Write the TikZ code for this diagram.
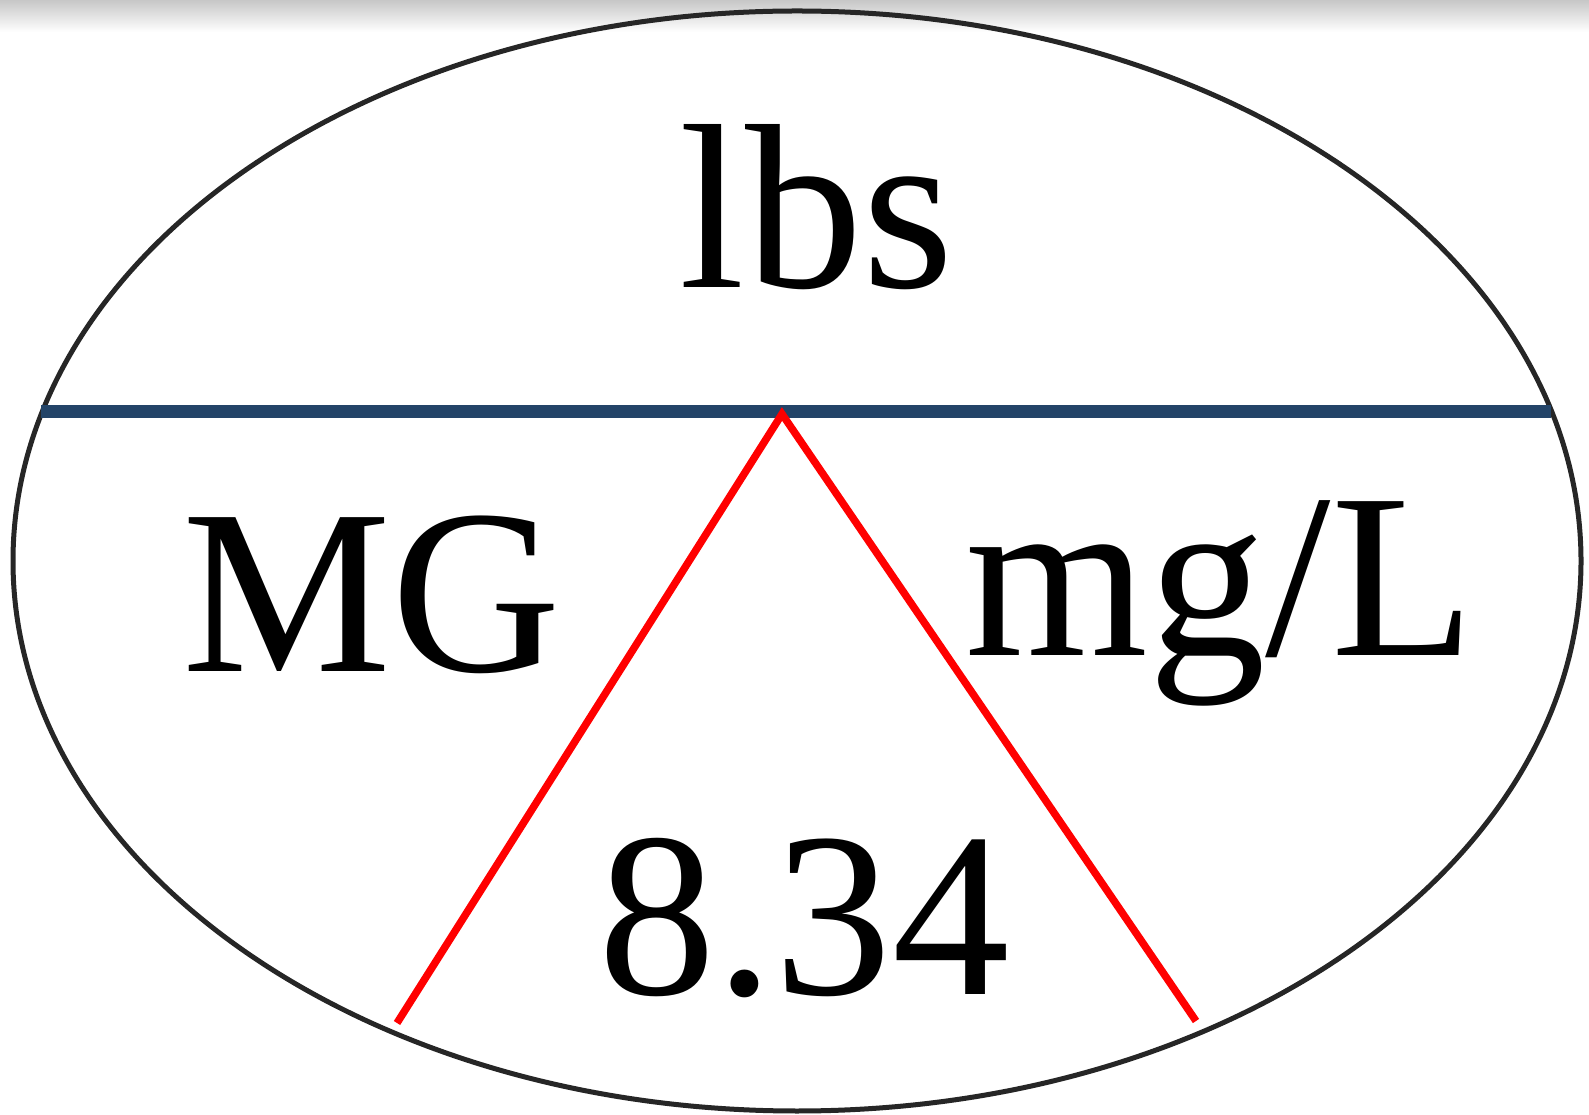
\documentclass[tikz,border=0pt]{standalone}
\usepackage{fontspec}
\setmainfont{Liberation Serif}
\definecolor{barblue}{HTML}{234468}
\definecolor{rimgray}{HTML}{262626}
\tikzset{
  unit/.style={inner sep=0pt,anchor=base,font=\fontsize{235}{260}\selectfont},
}
\begin{document}
\begin{tikzpicture}[x=1pt,y=1pt]
        \useasboundingbox (0,0) rectangle (1589,1114);
        %sfumatura in alto
        \shade[top color=black!22, bottom color=white] (0,1082) rectangle (1589,1114);

        %ellisse
        \draw[line width=5pt,rimgray] (797,553) ellipse [x radius=784, y radius=550];
        %barra orizzontale
        \coordinate (barL) at (41,702.5);
        \coordinate (barR) at (1551,702.5);
        \draw[line width=12.5pt,barblue] (barL) -- (barR);

        %triangolo rosso
        \coordinate (apex) at (782,700);
        \coordinate (footL) at (397,91);
        \coordinate (footR) at (1196,93);
        \draw[line width=7.5pt,red] (footL) -- (apex) -- (footR);

        %etichette
        \node[unit] (lbs) at (817,826) {lbs};
        \node[unit] (mg) at (372,442) {MG};
        \node[unit] (mgl) at (1220,458) {mg/L};
        \node[unit] (fattore) at (804,120) {8.34};
\end{tikzpicture}
\end{document}
